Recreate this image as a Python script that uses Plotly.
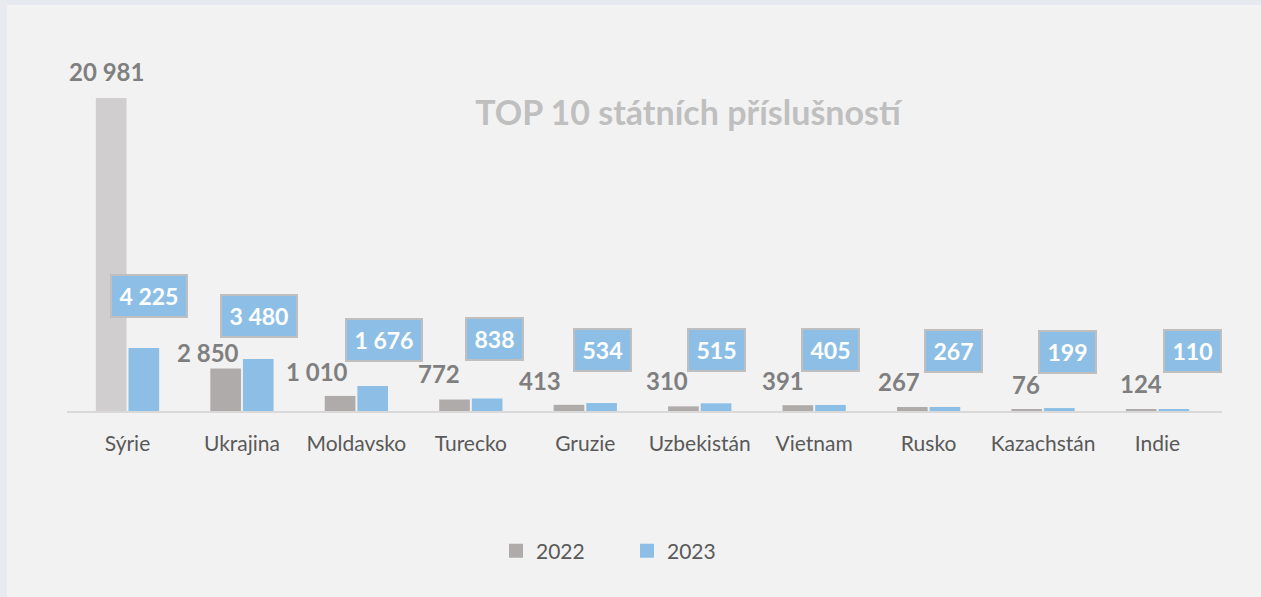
import plotly.graph_objects as go

categories = ["Sýrie", "Ukrajina", "Moldavsko", "Turecko", "Gruzie",
              "Uzbekistán", "Vietnam", "Rusko", "Kazachstán", "Indie"]
values_2022 = [20981, 2850, 1010, 772, 413, 310, 391, 267, 76, 124]
values_2023 = [4225, 3480, 1676, 838, 534, 515, 405, 267, 199, 110]
series_names = ["2022", "2023"]
title_text = "TOP 10 státních příslušností"

# label placement (pixel offsets from category centre / baseline), style only
lab22_dx = [-21, -34, -39, -32, -45, -33, -31, -30, -17, -17]
lab22_dy = [340, 59, 40, 38, 31, 31, 31, 30, 27, 28]
lab23_dx = [21, 17, 28, 24, 17, 17, 16, 25, 24, 35]
lab23_dy = [115, 95, 71, 72, 61, 61, 61, 60, 59, 60]

GREY = "#afabab"
GREY_LIGHT = "#d0cece"
BLUE = "#8dbfe6"
FONT = "Lato"

def fmt(v):
    return f"{v:,}".replace(",", " ")

fig = go.Figure()
fig.add_trace(go.Bar(
    x=categories, y=values_2022, name=series_names[0], showlegend=False,
    marker=dict(color=[GREY_LIGHT] + [GREY] * (len(categories) - 1), line=dict(width=0)),
    hoverinfo="x+y",
))
fig.add_trace(go.Bar(
    x=categories, y=values_2023, name=series_names[1], showlegend=False,
    marker=dict(color=BLUE, line=dict(width=0)),
    hoverinfo="x+y",
))
# legend entries (square swatches)
for nm, col in zip(series_names, [GREY, BLUE]):
    fig.add_trace(go.Scatter(
        x=[None], y=[None], name=nm, mode="markers",
        marker=dict(symbol="square", size=14, color=col),
    ))

annotations = []
for i, c in enumerate(categories):
    annotations.append(dict(
        x=c, y=0, xref="x", yref="y", xshift=lab22_dx[i], yshift=lab22_dy[i],
        yanchor="middle", xanchor="center", showarrow=False,
        text=f"<b>{fmt(values_2022[i])}</b>",
        font=dict(family=FONT, size=24, color="#7f7f7f"),
    ))
    t = fmt(values_2023[i])
    annotations.append(dict(
        x=c, y=0, xref="x", yref="y", xshift=lab23_dx[i], yshift=lab23_dy[i],
        yanchor="middle", xanchor="center", showarrow=False,
        text=f"<b>{t}</b>",
        font=dict(family=FONT, size=23, color="white"),
        bgcolor=BLUE, bordercolor="#bfbfbf", borderwidth=2, borderpad=1,
        width=72 if len(t) > 3 else 53, height=38, valign="middle",
    ))

fig.update_layout(
    width=1261, height=597,
    paper_bgcolor="#f2f2f2", plot_bgcolor="#f2f2f2",
    margin=dict(l=67, r=39, t=38, b=186),
    barmode="group", bargap=0.43, bargroupgap=0.06,
    title=dict(text=f"<b>{title_text}</b>", x=688 / 1261, xanchor="center",
               xref="container", y=1 - 113 / 597, yanchor="middle", yref="container",
               font=dict(family=FONT, size=34, color="#bfbfbf")),
    xaxis=dict(showgrid=False, showline=True, linecolor="#d9d9d9", linewidth=2,
               ticks="", tickfont=dict(family=FONT, size=21, color="#595959"),
               ticklabelstandoff=13, fixedrange=True),
    yaxis=dict(range=[0, 25000], visible=False, fixedrange=True),
    showlegend=True,
    legend=dict(orientation="h", xref="container", yref="container",
                x=496 / 1261, xanchor="left", y=1 - 551 / 597, yanchor="middle",
                font=dict(family=FONT, size=21, color="#595959"),
                itemwidth=30, entrywidth=86, entrywidthmode="pixels",
                bgcolor="rgba(0,0,0,0)",
                traceorder="normal", itemclick=False, itemdoubleclick=False),
    annotations=annotations,
    shapes=[
        dict(type="rect", xref="paper", yref="paper",
             x0=-67 / 1155, x1=1 + 39 / 1155, y0=1 + 33 / 373, y1=1 + 38 / 373,
             fillcolor="#e6e9f0", line=dict(width=0), layer="below"),
        dict(type="rect", xref="paper", yref="paper",
             x0=-67 / 1155, x1=-60 / 1155, y0=-186 / 373, y1=1 + 38 / 373,
             fillcolor="#e8eaf0", line=dict(width=0), layer="below"),
    ],
)

fig.write_html(
    "out.html",
    config={"displayModeBar": False},
    post_script="document.body.style.margin='0';document.body.style.background='#f2f2f2';",
)
